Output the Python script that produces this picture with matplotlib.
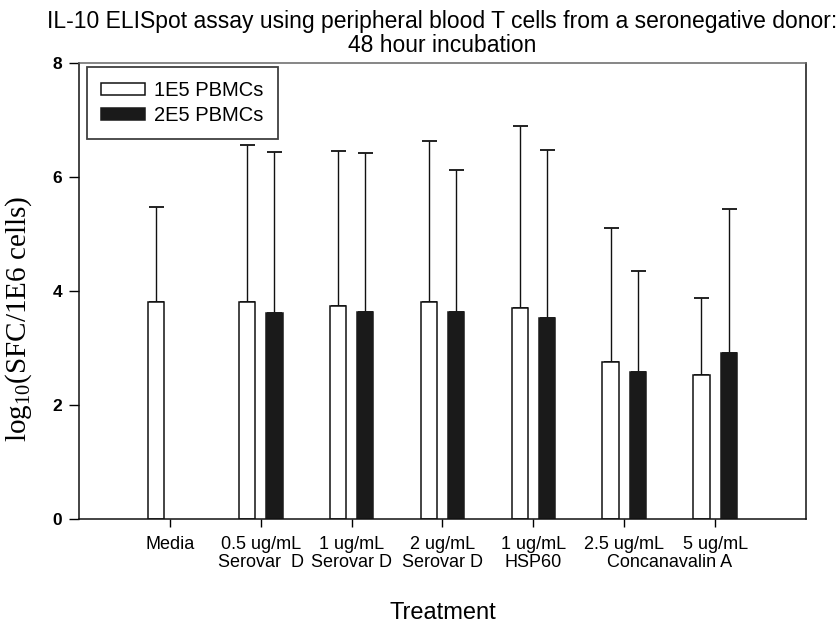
import matplotlib
matplotlib.use("Agg")
import matplotlib.pyplot as plt
import numpy as np

plt.rcParams['font.family'] = ['Liberation Sans', 'DejaVu Sans']
plt.rcParams['mathtext.fontset'] = 'custom'
plt.rcParams['mathtext.rm'] = 'Liberation Serif'

# treatments (last two share "Concanavalin A" line underneath)
treatments = ["Media", "0.5 ug/mL\nSerovar  D", "1 ug/mL\nSerovar D", "2 ug/mL\nSerovar D",
              "1 ug/mL\nHSP60", "2.5 ug/mL", "5 ug/mL"]
series_names = ["1E5 PBMCs", "2E5 PBMCs"]

# log10 SFC per 1E6 cells, upper error only
mean_1e5 = [3.80, 3.80, 3.73, 3.80, 3.70, 2.75, 2.53]
err_1e5 = [1.67, 2.76, 2.73, 2.83, 3.20, 2.35, 1.35]
mean_2e5 = [np.nan, 3.61, 3.63, 3.64, 3.53, 2.58, 2.92]
err_2e5 = [np.nan, 2.82, 2.79, 2.49, 2.94, 1.77, 2.51]

x = np.arange(len(treatments))
w = 0.18
off = 0.15

fig = plt.figure(figsize=(8.4, 6.28), dpi=100)
ax = fig.add_axes([0.094, 0.1736, 0.8655, 0.7261])

ax.bar(x - off, mean_1e5, w, color="white", edgecolor="#111111", linewidth=1.1,
       label=series_names[0], zorder=2)
ax.bar(x + off, mean_2e5, w, color="#1a1a1a", edgecolor="#1a1a1a", linewidth=1.1,
       label=series_names[1], zorder=2)

ax.errorbar(x - off, mean_1e5, yerr=[np.zeros(len(x)), err_1e5], fmt="none",
            ecolor="#111111", elinewidth=1.0, capsize=5.4, capthick=1.3, zorder=1)
ax.errorbar(x + off, mean_2e5, yerr=[np.zeros(len(x)), err_2e5], fmt="none",
            ecolor="#111111", elinewidth=1.0, capsize=5.4, capthick=1.3, zorder=1)

ax.set_xlim(-1, 7)
ax.set_ylim(0, 8)
ax.set_yticks([0, 2, 4, 6, 8])
ax.set_xticks(x)
ax.set_xticklabels(treatments, fontsize=13, linespacing=1.1)
for lab in ax.get_yticklabels():
    lab.set_fontweight("bold")
    lab.set_fontsize(12.5)
ax.tick_params(axis="y", direction="out", length=7, width=1, pad=5, right=False)
ax.tick_params(axis="x", direction="out", length=6, width=1, pad=6, top=False)
for s in ax.spines.values():
    s.set_linewidth(1.1)
    s.set_color("#111111")
ax.spines["top"].set_color("#666666")

ax.annotate("Concanavalin A", xy=(5.5, 0), xycoords=("data", "axes fraction"),
            xytext=(0, -44 * 0.72), textcoords="offset points",
            ha="center", va="center", fontsize=13)

ax.set_xlabel("Treatment", fontsize=17, labelpad=22)
ax.set_ylabel(r"$\mathrm{log}_{10}$(SFC/1E6 cells)", fontsize=21,
              family="Liberation Serif")
ax.yaxis.set_label_coords(-0.062, 0.44)

ax.set_title("IL-10 ELISpot assay using peripheral blood T cells from a seronegative donor:\n48 hour incubation",
             fontsize=16.5, linespacing=1.05, pad=8)

leg = ax.legend(loc="upper left", bbox_to_anchor=(8 / 727, 1 - 4 / 456), borderaxespad=0,
                fontsize=14.5, frameon=True, fancybox=False,
                edgecolor="#111111", handlelength=2.2, handleheight=0.5, handletextpad=0.45,
                borderpad=0.7, labelspacing=0.3)
leg.get_frame().set_linewidth(1.3)

fig.savefig("out.png", dpi=100)
